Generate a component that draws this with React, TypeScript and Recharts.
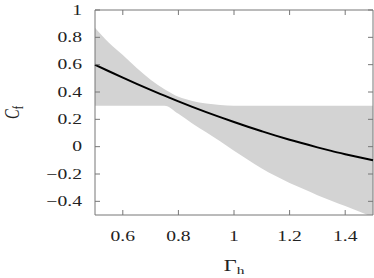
import React from 'react';
import { ComposedChart, Line, Area, XAxis, YAxis, ReferenceArea, Label } from 'recharts';

// Gamma_h samples along the x axis
const gammaH = [0.5, 0.55, 0.6, 0.65, 0.7, 0.75, 0.8, 0.85, 0.9, 0.95, 1.0, 1.05, 1.1, 1.15, 1.2, 1.25, 1.3, 1.35, 1.4, 1.45, 1.5];
// black curve
const cfMean = [0.6, 0.552, 0.505, 0.459, 0.415, 0.373, 0.331, 0.291, 0.253, 0.216, 0.18, 0.146, 0.113, 0.081, 0.051, 0.023, -0.005, -0.031, -0.055, -0.078, -0.1];
// gray band edges
const bandLower = [0.3, 0.3, 0.3, 0.3, 0.3, 0.3, 0.24, 0.17, 0.105, 0.04, -0.03, -0.095, -0.16, -0.215, -0.265, -0.31, -0.355, -0.395, -0.435, -0.475, -0.515];
const bandUpper = [0.87, 0.76, 0.67, 0.575, 0.49, 0.42, 0.365, 0.335, 0.315, 0.305, 0.3, 0.3, 0.3, 0.3, 0.3, 0.3, 0.3, 0.3, 0.3, 0.3, 0.3];

const xTicks = [0.6, 0.8, 1, 1.2, 1.4];
const yTicks = [-0.4, -0.2, 0, 0.2, 0.4, 0.6, 0.8, 1];

const data = gammaH.map((g, i) => ({ g, cf: cfMean[i], band: [bandLower[i], bandUpper[i]] }));

const W = 374;
const H = 278;
const LEFT = 95;
const RIGHT = 373;
const TOP = 10;
const BOTTOM = 215;
const FONT = 'Liberation Serif, Times New Roman, serif';
const AXIS = '#777';
const SX = 1.4; // the figure's text is stretched sideways

const fmt = (v: number) => String(v).replace('-', '\u2212');

// text drawn with a horizontal stretch around its anchor point
const SText = ({ x, y, anchor, size, rotate = 0, dy, children }: any) => (
  <g transform={`translate(${x} ${y}) scale(${SX} 1) rotate(${rotate})`}>
    <text x={0} y={0} dy={dy} textAnchor={anchor} style={{ fontFamily: FONT, fontSize: size }} fill="#222">
      {children}
    </text>
  </g>
);

const YTick = (props: any) => {
  const { y, payload } = props;
  return (
    <g>
      <line x1={LEFT} x2={LEFT + 5} y1={y} y2={y} stroke={AXIS} />
      <line x1={RIGHT - 5} x2={RIGHT} y1={y} y2={y} stroke={AXIS} />
      <SText x={82} y={y} dy="0.34em" anchor="end" size={14}>
        {fmt(payload.value)}
      </SText>
    </g>
  );
};

const XTick = (props: any) => {
  const { x, payload } = props;
  return (
    <g>
      <line x1={x} x2={x} y1={BOTTOM} y2={BOTTOM - 5} stroke={AXIS} />
      <line x1={x} x2={x} y1={TOP} y2={TOP + 5} stroke={AXIS} />
      <SText x={x} y={241} anchor="middle" size={14}>
        {fmt(payload.value)}
      </SText>
    </g>
  );
};

export default function App() {
  return (
    <div style={{ position: 'absolute', left: 0, top: 0, width: W, height: H, background: '#fff' }}>
      <ComposedChart width={W} height={H} data={data} margin={{ top: TOP, right: W - RIGHT, left: 0, bottom: 0 }}>
        <XAxis
          dataKey="g"
          type="number"
          domain={[0.5, 1.5]}
          ticks={xTicks}
          height={H - BOTTOM}
          axisLine={false}
          tickLine={false}
          tick={<XTick />}
          interval={0}
        >
          <Label
            content={() => (
              <SText x={(LEFT + RIGHT) / 2} y={271} anchor="middle" size={16}>
                Γ<tspan style={{ fontSize: 11 }} dy={3}>h</tspan>
              </SText>
            )}
          />
        </XAxis>
        <YAxis
          type="number"
          domain={[-0.5, 1]}
          ticks={yTicks}
          width={LEFT}
          allowDataOverflow
          axisLine={false}
          tickLine={false}
          tick={<YTick />}
          interval={0}
        >
          <Label
            content={() => (
              <SText x={18.5} y={(TOP + BOTTOM) / 2} anchor="middle" size={14.5} rotate={-90}>
                <tspan fontStyle="italic">C</tspan>
                <tspan style={{ fontSize: 10 }} dy={3}>f</tspan>
              </SText>
            )}
          />
        </YAxis>
        <Area
          dataKey="band"
          type="monotone"
          fill="#d3d3d3"
          fillOpacity={1}
          stroke="none"
          isAnimationActive={false}
          activeDot={false}
        />
        <Line dataKey="cf" type="monotone" stroke="#000" strokeWidth={2} dot={false} isAnimationActive={false} />
        <ReferenceArea x1={0.5} x2={1.5} y1={-0.5} y2={1} fill="none" stroke={AXIS} strokeWidth={1} />
      </ComposedChart>
    </div>
  );
}
